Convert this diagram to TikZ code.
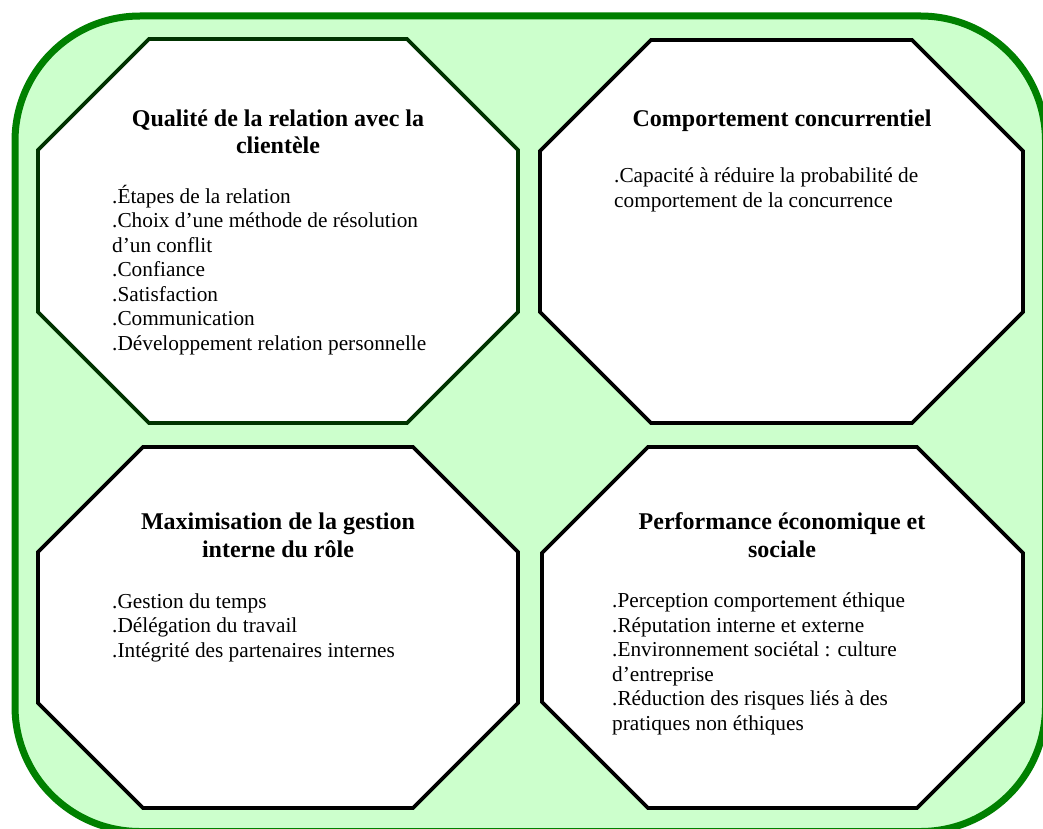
\documentclass[tikz,border=0pt]{standalone}
\usepackage{fontspec}
\setmainfont{Liberation Serif}
\definecolor{bggreen}{HTML}{CCFFCC}
\definecolor{framegreen}{HTML}{008000}
\definecolor{darkedge}{HTML}{003300}
\newcommand{\octpath}[5]{(#1+#5,#2) -- (#3-#5,#2) -- (#3,#2+#5) -- (#3,#4-#5) -- (#3-#5,#4) -- (#1+#5,#4) -- (#1,#4-#5) -- (#1,#2+#5) -- cycle}
\tikzset{
  outerframe/.style={draw=framegreen, fill=bggreen, line width=7pt, rounded corners=125pt},
  octa/.style={draw=black, fill=white, line width=3.8pt, line join=miter},
  titletext/.style={inner sep=0pt, align=center, font=\fontsize{24}{27.5}\selectfont\bfseries, anchor=base},
  bodytext/.style={inner sep=0pt, align=left, font=\fontsize{21.3}{24.5}\selectfont, anchor=base west},
}
\begin{document}
\begin{tikzpicture}[x=1pt, y=-1pt]
\useasboundingbox (0,0) rectangle (1043,829);
\clip (0,0) rectangle (1043,829);
\fill[white] (0,0) rectangle (1043,829);
\draw[outerframe] (15,16) rectangle (1045.5,831.5);
% octagons
\draw[octa, draw=darkedge] \octpath{38}{39}{518}{423}{111};
\draw[octa] \octpath{540}{40}{1023}{423}{111};
\draw[octa] \octpath{38}{447}{518}{808}{105};
\draw[octa] \octpath{542}{447}{1023}{808}{106};
% texts (base anchor = baseline of the last line)
\node[titletext] (t1) at (278,154) {Qualité de la relation avec la\\clientèle};
\node[bodytext] (b1) at (112,350) {.Étapes de la relation\\.Choix d’une méthode de résolution\\d’un conflit\\.Confiance\\.Satisfaction\\.Communication\\.Développement relation personnelle};
\node[titletext] (t2) at (782,127) {Comportement concurrentiel};
\node[bodytext] (b2) at (614,207) {.Capacité à réduire la probabilité de\\comportement de la concurrence};
\node[titletext] (t3) at (278,557) {Maximisation de la gestion\\interne du rôle};
\node[bodytext] (b3) at (112,657) {.Gestion du temps\\.Délégation du travail\\.Intégrité des partenaires internes};
\node[titletext] (t4) at (782,557) {Performance économique et\\sociale};
\node[bodytext] (b4) at (612,730) {.Perception comportement éthique\\.Réputation interne et externe\\.Environnement sociétal : culture\\d’entreprise\\.Réduction des risques liés à des\\pratiques non éthiques};
\end{tikzpicture}
\end{document}
